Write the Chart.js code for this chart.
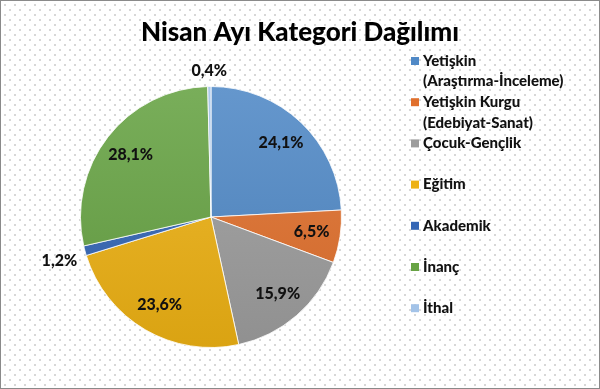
<!DOCTYPE html>
<html>
<head>
<meta charset="utf-8">
<script src="https://cdn.jsdelivr.net/npm/chart.js@4.4.1/dist/chart.umd.min.js"></script>
<style>
    html, body { margin: 0; padding: 0; background: #fff; }
    #wrap {
        position: relative;
        width: 600px;
        height: 389px;
        background-color: #fff;
        background-image:
            radial-gradient(circle, #d6d6d6 0.7px, transparent 1.1px),
            radial-gradient(circle, #d6d6d6 0.7px, transparent 1.1px);
        background-size: 10px 10px, 10px 10px;
        background-position: 0 0, 5px 5px;
        box-shadow: inset 0 0 0 1px #8a8a8a;
    }
</style>
</head>
<body>
<div id="wrap"><canvas id="myChart"></canvas></div>
<script>
// data
const chartTitle = 'Nisan Ayı Kategori Dağılımı';
const categories = [
    ['Yetişkin', '(Araştırma-İnceleme)'],
    ['Yetişkin Kurgu', '(Edebiyat-Sanat)'],
    'Çocuk-Gençlik',
    'Eğitim',
    'Akademik',
    'İnanç',
    'İthal'
];
const shares = [24.1, 6.5, 15.9, 23.6, 1.2, 28.1, 0.4];
const sliceColors = ['#5089c6', '#e0702d', '#9c9c9c', '#edb114', '#3466b5', '#67a344', '#a3c3e8'];

function shade(hex, amt) {
    let n = parseInt(hex.slice(1), 16);
    let r = (n >> 16) & 255, g = (n >> 8) & 255, b = n & 255;
    const f = (c) => Math.max(0, Math.min(255, Math.round(amt > 0 ? c + (255 - c) * amt : c * (1 + amt))));
    return 'rgb(' + f(r) + ',' + f(g) + ',' + f(b) + ')';
}

function sliceFill(context) {
    const chart = context.chart;
    const area = chart.chartArea;
    const base = sliceColors[context.dataIndex];
    if (!area) return base;
    const grad = chart.ctx.createLinearGradient(0, area.top, 0, area.bottom);
    grad.addColorStop(0, shade(base, 0.12));
    grad.addColorStop(1, shade(base, -0.08));
    return grad;
}

const FONT = 'Lato, "Open Sans", sans-serif';

// percent labels, title and legend drawn on the canvas
const decorations = {
    id: 'decorations',
    afterDatasetsDraw(chart) {
        const ctx = chart.ctx;
        const meta = chart.getDatasetMeta(0);
        ctx.save();
        ctx.fillStyle = '#111';
        ctx.font = '900 16px ' + FONT;
        meta.data.forEach((arc, i) => {
            const p = arc.getProps(['x', 'y', 'startAngle', 'endAngle', 'outerRadius'], true);
            const mid = (p.startAngle + p.endAngle) / 2;
            const dx = Math.cos(mid), dy = Math.sin(mid);
            const text = shares[i].toFixed(1).replace('.', ',') + '%';
            if (shares[i] >= 3) {
                const d = p.outerRadius * 0.78;
                ctx.textAlign = 'center';
                ctx.textBaseline = 'middle';
                ctx.fillText(text, p.x + dx * d, p.y + dy * d);
            } else {
                const d = p.outerRadius + 8;
                const tx = p.x + dx * d, ty = p.y + dy * d;
                if (Math.abs(dx) > Math.abs(dy)) {
                    ctx.textAlign = dx < 0 ? 'right' : 'left';
                    ctx.textBaseline = 'top';
                } else {
                    ctx.textAlign = 'center';
                    ctx.textBaseline = dy < 0 ? 'bottom' : 'top';
                }
                ctx.fillText(text, tx, ty);
            }
        });

        // title
        ctx.font = '900 26px ' + FONT;
        ctx.textAlign = 'center';
        ctx.textBaseline = 'middle';
        ctx.fillStyle = '#000';
        ctx.fillText(chartTitle, 300, 33);

        // legend
        ctx.font = '900 15px ' + FONT;
        ctx.textAlign = 'left';
        ctx.textBaseline = 'middle';
        categories.forEach((label, i) => {
            const lines = Array.isArray(label) ? label : [label];
            const y0 = 61 + i * 41.2;
            ctx.fillStyle = sliceColors[i];
            ctx.fillRect(411, y0 - 4, 8, 8);
            ctx.fillStyle = '#111';
            lines.forEach((ln, k) => ctx.fillText(ln, 423, y0 + k * 20.5));
        });
        ctx.restore();
    }
};

const ctx = document.getElementById('myChart');
const myChart = new Chart(ctx, {
    type: 'pie',
    data: {
        labels: categories,
        datasets: [{
            data: shares,
            backgroundColor: sliceFill,
            borderColor: 'rgba(255,255,255,0.8)',
            borderWidth: 1
        }]
    },
    options: {
        responsive: true,
        maintainAspectRatio: false,
        animation: false,
        events: [],
        layout: {
            padding: { left: 80, right: 258, top: 86, bottom: 41 }
        },
        plugins: {
            legend: { display: false },
            title: { display: false },
            tooltip: { enabled: false }
        }
    },
    plugins: [decorations]
});
</script>
</body>
</html>
